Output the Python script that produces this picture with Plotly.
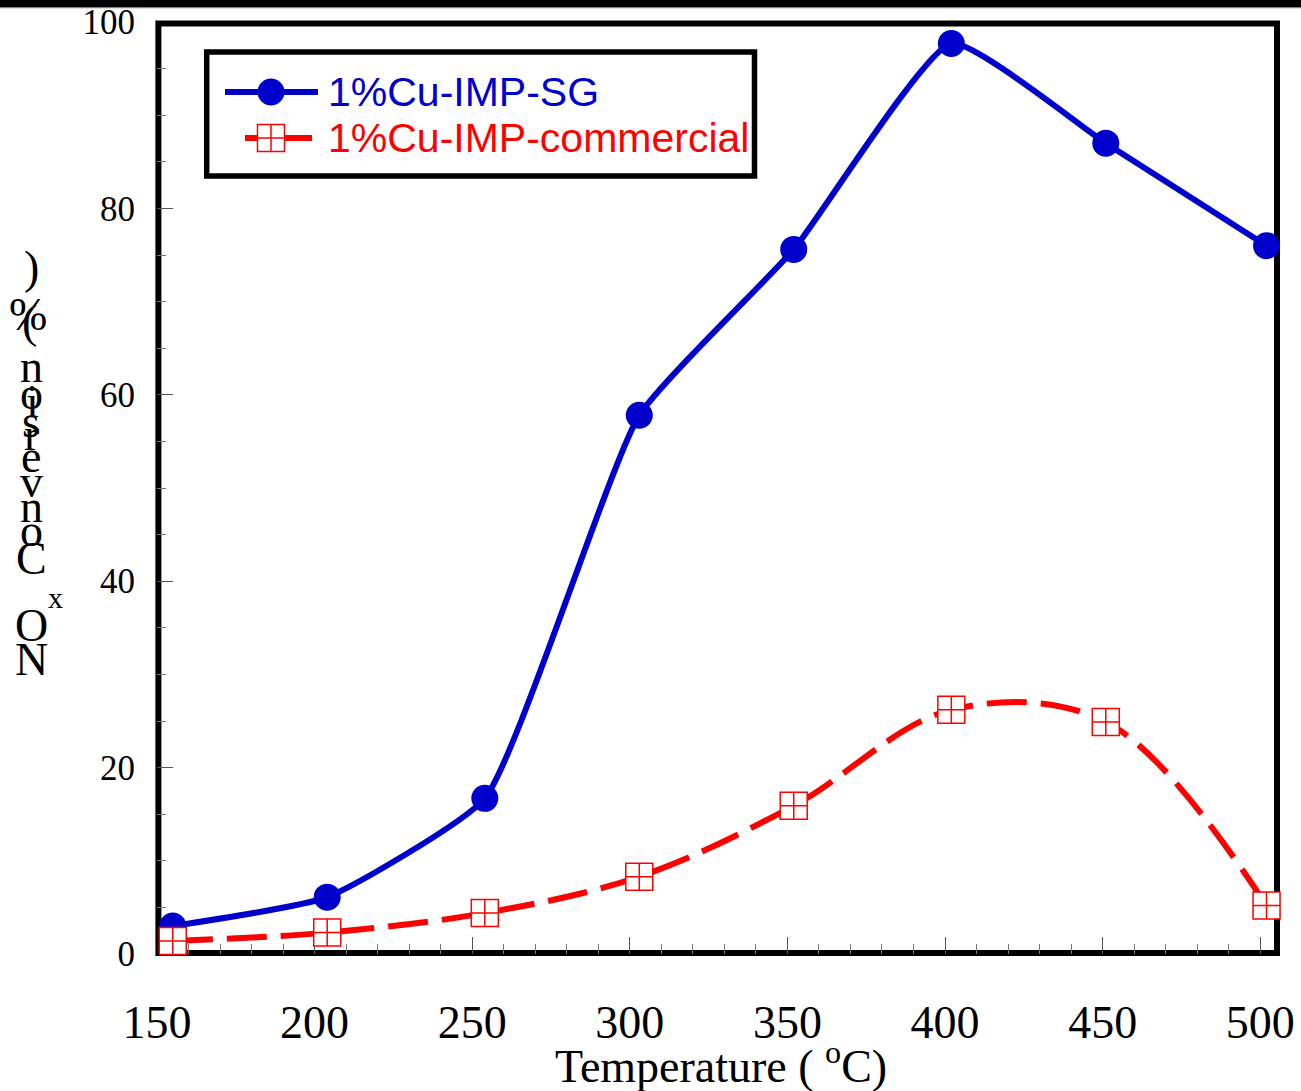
import plotly.graph_objects as go

# NOx conversion vs. reaction temperature for two Cu catalysts
temperature = [155, 204, 254, 303, 352, 402, 451, 502]
conv_sg = [3.0, 6.1, 16.7, 57.8, 75.6, 97.7, 87.0, 76.0]
conv_commercial = [1.4, 2.3, 4.4, 8.3, 15.9, 26.2, 24.9, 5.2]
series_names = ["1%Cu-IMP-SG", "1%Cu-IMP-commercial"]

x_range = [150, 505]
y_range = [0, 100]

W, H = 1301, 1091
L, T, PW, PH = 157, 22, 1119, 932

BLUE = "#0000CD"
RED = "#FF0000"
SERIF = "Liberation Serif"
SANS = "Liberation Sans"


def px(x):
    """Pixel column -> paper x."""
    return (x - L) / PW


def py(y):
    """Pixel row -> paper y."""
    return (T + PH - y) / PH


fig = go.Figure()

fig.add_trace(go.Scatter(
    x=temperature, y=conv_sg, mode="lines+markers", name=series_names[0],
    line=dict(color=BLUE, width=6, shape="spline", smoothing=0.45),
    marker=dict(symbol="circle", size=27, color=BLUE),
    cliponaxis=False, showlegend=False,
))
fig.add_trace(go.Scatter(
    x=temperature, y=conv_commercial, mode="lines+markers", name=series_names[1],
    line=dict(color=RED, width=6, shape="spline", smoothing=1.0, dash="40px,14px"),
    marker=dict(symbol="square-cross", size=27, color="white",
                line=dict(color=RED, width=1.5)),
    cliponaxis=False, showlegend=False,
))

shapes = []
# thick frame around the plotting area
shapes.append(dict(type="rect", xref="paper", yref="paper",
                   x0=px(158.4), x1=px(1277), y0=py(953), y1=py(23.4),
                   line=dict(color="black", width=6), layer="below"))
# rule across the top of the page
shapes.append(dict(type="rect", xref="paper", yref="paper",
                   x0=px(0), x1=px(W), y0=py(7), y1=py(-2),
                   fillcolor="black", line=dict(width=0), layer="above"))
shapes.append(dict(type="line", xref="paper", yref="paper",
                   x0=px(0), x1=px(W), y0=py(7.6), y1=py(7.6),
                   line=dict(color="#808080", width=1.2), layer="above"))

# legend box
shapes.append(dict(type="rect", xref="paper", yref="paper",
                   x0=px(206.7), x1=px(754.5), y0=py(176), y1=py(52),
                   fillcolor="white", line=dict(color="black", width=5.5),
                   layer="above"))
# legend sample: SG
shapes.append(dict(type="line", xref="paper", yref="paper",
                   x0=px(225), x1=px(318), y0=py(92), y1=py(92),
                   line=dict(color=BLUE, width=6), layer="above"))
shapes.append(dict(type="circle", xref="paper", yref="paper",
                   x0=px(271 - 13.5), x1=px(271 + 13.5),
                   y0=py(92 + 13.5), y1=py(92 - 13.5),
                   fillcolor=BLUE, line=dict(color=BLUE, width=0), layer="above"))
# legend sample: commercial
shapes.append(dict(type="line", xref="paper", yref="paper",
                   x0=px(245), x1=px(312), y0=py(138), y1=py(138),
                   line=dict(color=RED, width=6), layer="above"))
shapes.append(dict(type="rect", xref="paper", yref="paper",
                   x0=px(271 - 13.5), x1=px(271 + 13.5),
                   y0=py(138 + 13.5), y1=py(138 - 13.5),
                   fillcolor="white", line=dict(color=RED, width=1.5), layer="above"))
shapes.append(dict(type="line", xref="paper", yref="paper",
                   x0=px(271), x1=px(271), y0=py(138 + 13.5), y1=py(138 - 13.5),
                   line=dict(color=RED, width=1.5), layer="above"))
shapes.append(dict(type="line", xref="paper", yref="paper",
                   x0=px(271 - 13.5), x1=px(271 + 13.5), y0=py(138), y1=py(138),
                   line=dict(color=RED, width=1.5), layer="above"))

annotations = []
annotations.append(dict(text=series_names[0], xref="paper", yref="paper",
                        x=px(326), y=py(92), xanchor="left", yanchor="middle",
                        showarrow=False, font=dict(family=SANS, size=41, color=BLUE)))
annotations.append(dict(text=series_names[1], xref="paper", yref="paper",
                        x=px(326), y=py(138), xanchor="left", yanchor="middle",
                        showarrow=False, font=dict(family=SANS, size=41, color=RED)))

# x-axis title
annotations.append(dict(text="Temperature ( <sup>o</sup>C)", xref="paper", yref="paper",
                        x=px(721), y=py(1063), xanchor="center", yanchor="middle",
                        showarrow=False, font=dict(family=SERIF, size=46, color="black")))

# y-axis title, glyphs stacked one above another
y_title_glyphs = [
    ("N", 31, 675, 46), ("O", 31, 641, 46), ("x", 55, 608, 30),
    ("C", 31, 574, 46), ("o", 31, 546, 46), ("n", 31, 522, 46),
    ("v", 31, 497, 46), ("e", 31, 472, 46), ("r", 31, 450, 46),
    ("s", 31, 437, 46), ("i", 32, 417, 46), ("o", 31, 409, 46),
    ("n", 31, 382, 46), ("(", 29, 337, 46), ("%", 28, 330, 46),
    (")", 31, 283, 46),
]
for ch, gx, base, size in y_title_glyphs:
    annotations.append(dict(text=ch, xref="paper", yref="paper",
                            x=px(gx), y=py(base - 0.34 * size),
                            xanchor="center", yanchor="middle", showarrow=False,
                            font=dict(family=SERIF, size=size, color="black")))

fig.update_layout(
    width=W, height=H,
    margin=dict(l=L, r=W - L - PW, t=T, b=H - T - PH, pad=0, autoexpand=False),
    paper_bgcolor="white", plot_bgcolor="white",
    shapes=shapes, annotations=annotations,
    showlegend=False,
    xaxis=dict(
        range=x_range, tickmode="linear", tick0=150, dtick=50,
        ticks="inside", ticklen=17, tickwidth=1, tickcolor="#555",
        minor=dict(dtick=10, tick0=150, ticks="inside", ticklen=10,
                   tickwidth=1, tickcolor="#777"),
        showline=False, showgrid=False, zeroline=False, automargin=False,
        tickfont=dict(family=SERIF, size=46, color="black"),
        ticklabelstandoff=37, layer="below traces",
    ),
    yaxis=dict(
        range=y_range, tickmode="linear", tick0=0, dtick=20,
        ticks="inside", ticklen=16, tickwidth=1, tickcolor="#555",
        minor=dict(dtick=5, tick0=0, ticks="inside", ticklen=8.5,
                   tickwidth=1, tickcolor="#777"),
        showline=False, showgrid=False, zeroline=False, automargin=False,
        tickfont=dict(family=SERIF, size=35, color="black"),
        ticklabelstandoff=21, layer="below traces",
    ),
)

fig.write_html("out.html")
